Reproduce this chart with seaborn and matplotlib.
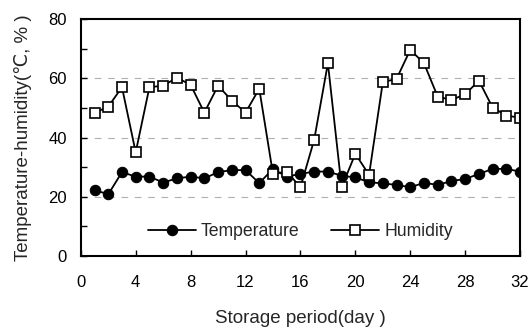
import numpy as np
import pandas as pd
import matplotlib
matplotlib.use("Agg")
import matplotlib.pyplot as plt
import seaborn as sns

days = list(range(1, 33))
temperature = [22.3, 20.8, 28.3, 26.8, 26.8, 24.8, 26.2, 26.8, 26.2, 28.3, 29.0, 29.0,
               24.6, 29.4, 26.8, 27.7, 28.5, 28.5, 27.1, 26.5, 24.9, 24.5, 24.0, 23.2,
               24.7, 24.0, 25.3, 26.0, 27.7, 29.4, 29.4, 28.5]
humidity = [48.3, 50.4, 57.0, 35.0, 57.0, 57.5, 60.2, 57.8, 48.4, 57.5, 52.5, 48.4,
            56.5, 27.7, 28.5, 23.2, 39.2, 65.1, 23.2, 34.5, 27.4, 58.7, 59.8, 69.6,
            65.1, 53.8, 52.7, 54.6, 59.2, 50.1, 47.4, 46.7]
xticks = list(range(0, 33, 4))
yticks = list(range(0, 81, 20))

sns.set_style("ticks")
plt.rcParams['font.family'] = ['Liberation Sans', 'DejaVu Sans']

df = pd.DataFrame({"day": days, "Temperature": temperature, "Humidity": humidity})

fig = plt.figure(figsize=(5.28, 3.35), dpi=100)
ax = fig.add_axes([0.153, 0.236, 0.832, 0.707])

sns.lineplot(data=df, x="day", y="Temperature", ax=ax, color="black", lw=1.3,
             marker="o", markersize=7.5, markerfacecolor="black", markeredgecolor="black",
             label="Temperature")
sns.lineplot(data=df, x="day", y="Humidity", ax=ax, color="black", lw=1.3,
             marker="s", markersize=7.5, markerfacecolor="white", markeredgecolor="black",
             markeredgewidth=1.2, label="Humidity")

ax.set_xlim(0, 32)
ax.set_ylim(0, 80)
ax.set_xticks(xticks)
ax.set_yticks(list(range(0, 81, 10)))
ax.set_yticklabels([str(v) if v % 20 == 0 else "" for v in range(0, 81, 10)])
ax.tick_params(direction="in", length=4, width=1, labelsize=12, colors="black", pad=10)
ax.tick_params(axis="x", pad=14)
for v in [20, 40, 60]:
    ax.axhline(v, color="#b0b0b0", lw=0.8, ls=(0, (6, 6)), zorder=0)
for s in ax.spines.values():
    s.set_visible(True)
    s.set_linewidth(1.5)
    s.set_color("black")

ax.set_xlabel("Storage period(day )", fontsize=13.5, labelpad=14)
ax.set_ylabel("Temperature-humidity(℃, % )", fontsize=13.5, labelpad=12)

ax.legend(loc="lower center", bbox_to_anchor=(0.5, 0.0), ncol=2, frameon=False,
          fontsize=12.7, handlelength=2.7, columnspacing=1.8, handletextpad=0.3)

fig.savefig("out.png", dpi=100)
